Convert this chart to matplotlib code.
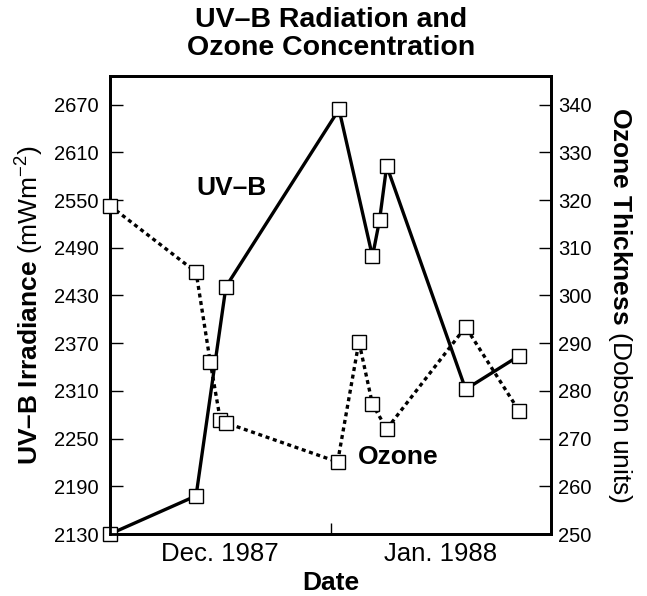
import matplotlib
matplotlib.use("Agg")
import matplotlib.pyplot as plt

plt.rcParams['font.family'] = ['Liberation Sans', 'DejaVu Sans']
plt.rcParams['mathtext.fontset'] = 'custom'
plt.rcParams['mathtext.rm'] = 'Liberation Sans'
plt.rcParams['mathtext.bf'] = 'Liberation Sans:bold'
plt.rcParams['mathtext.it'] = 'Liberation Sans:italic'

# Data (x = days since 1 Dec 1987)
uvb_days = [0, 12.1, 16.3, 32.2, 36.9, 37.9, 38.9, 50.0, 57.5]
uvb_values = [2130, 2178, 2441, 2664, 2479, 2525, 2593, 2312, 2354]

ozone_days = [0, 12.1, 14.1, 15.5, 16.3, 32.0, 35.0, 36.9, 38.9, 50.0, 57.5]
ozone_values = [318.8, 304.9, 286.0, 274.0, 273.3, 265.1, 290.3, 277.2, 272.0, 293.4, 275.8]

uvb_ticks = [2130, 2190, 2250, 2310, 2370, 2430, 2490, 2550, 2610, 2670]
ozone_ticks = [250, 260, 270, 280, 290, 300, 310, 320, 330, 340]
month_bounds = [31]
month_label_pos = [15.5, 46.5]
month_labels = ["Dec. 1987", "Jan. 1988"]

W, H = 647, 596
fig = plt.figure(figsize=(W / 100, H / 100), dpi=100)
L, R, T, B = 110, 551, 76, 534
ax = fig.add_axes([L / W, 1 - B / H, (R - L) / W, (B - T) / H])
ax2 = ax.twinx()

ax.set_xlim(0, 62)
ax.set_ylim(2130, 2706)
ax2.set_ylim(250, 346)

lw = 2.4
ax.plot(uvb_days, uvb_values, color='black', lw=lw, solid_joinstyle='miter',
        marker='s', markersize=10, markerfacecolor='white', markeredgecolor='black',
        markeredgewidth=1.0, clip_on=False, zorder=3)
ax2.plot(ozone_days, ozone_values, color='black', lw=lw, linestyle=(0, (1.2, 1.1)),
         dash_capstyle='butt',
         marker='s', markersize=10, markerfacecolor='white', markeredgecolor='black',
         markeredgewidth=1.0, clip_on=False, zorder=3)

for a in (ax, ax2):
    for s in a.spines.values():
        s.set_linewidth(2.0)

ax.set_yticks(uvb_ticks)
ax.tick_params(axis='y', direction='in', length=9, width=1.0, labelsize=14.5, pad=8)
ax2.set_yticks(ozone_ticks)
ax2.tick_params(axis='y', direction='in', length=9, width=1.0, labelsize=14.5, pad=5)

ax.set_xticks(month_bounds)
ax.set_xticklabels([''] * len(month_bounds))
ax.set_xticks(month_label_pos, minor=True)
ax.set_xticklabels(month_labels, minor=True)
ax.tick_params(axis='x', which='major', direction='in', length=8, width=1.0)
ax.tick_params(axis='x', which='minor', length=0, labelsize=18.5, pad=6)
ax2.tick_params(axis='x', which='both', length=0)

def px(x, y):
    return x / W, 1 - y / H

fig.text(*px(331, 20), "UV\u2013B Radiation and", ha='center', va='center',
         fontsize=20.5, fontweight='bold')
fig.text(*px(331, 48), "Ozone Concentration", ha='center', va='center',
         fontsize=20.5, fontweight='bold')

fig.text(*px(30, 305), "$\\mathbf{UV\u2013B\\ Irradiance}$ (mWm$^{-2}$)",
         rotation=90, ha='center', va='center', fontsize=19)
fig.text(*px(620, 305), "$\\mathbf{Ozone\\ Thickness}$ (Dobson units)",
         rotation=270, ha='center', va='center', fontsize=19)
fig.text(*px(331, 583), "Date", ha='center', va='center', fontsize=19, fontweight='bold')

fig.text(*px(231, 188), "UV\u2013B", ha='center', va='center', fontsize=19, fontweight='bold')
fig.text(*px(398, 457), "Ozone", ha='center', va='center', fontsize=19, fontweight='bold')

fig.savefig("out.png", dpi=100)
